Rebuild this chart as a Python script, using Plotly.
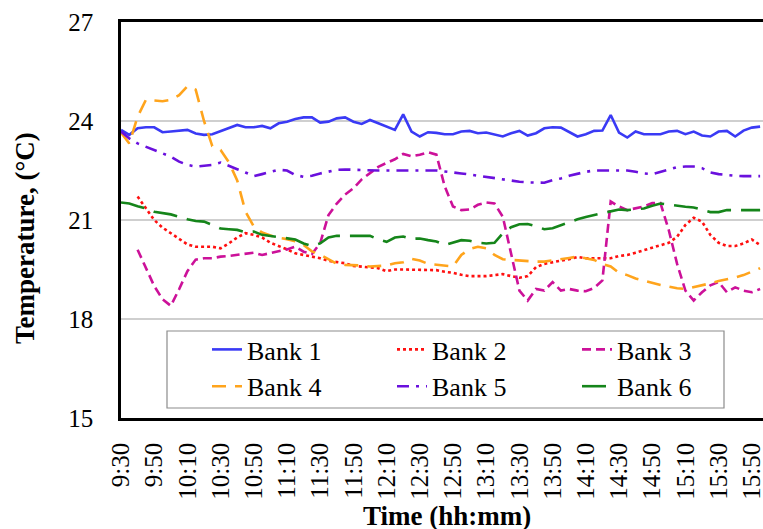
import plotly.graph_objects as go

# 5-minute sampling from 9:30 to 15:55 (categories)
times = [f"{(570 + 5 * k) // 60}:{(570 + 5 * k) % 60:02d}" for k in range(78)]

tick_labels = ["9:30", "9:50", "10:10", "10:30", "10:50", "11:10", "11:30", "11:50",
               "12:10", "12:30", "12:50", "13:10", "13:30", "13:50", "14:10", "14:30",
               "14:50", "15:10", "15:30", "15:50"]

y_ticks = [15, 18, 21, 24, 27]

bank1 = [23.73, 23.58, 23.78, 23.81, 23.81, 23.66, 23.68, 23.71, 23.73, 23.62,
         23.58, 23.60, 23.70, 23.78, 23.88, 23.81, 23.81, 23.85, 23.78, 23.93,
         23.98, 24.06, 24.11, 24.11, 23.95, 23.98, 24.08, 24.11, 23.98, 23.91,
         24.03, 23.93, 23.83, 23.73, 24.20, 23.68, 23.53, 23.66, 23.64, 23.60,
         23.60, 23.68, 23.70, 23.63, 23.65, 23.60, 23.53, 23.63, 23.70, 23.56,
         23.63, 23.78, 23.81, 23.80, 23.66, 23.53, 23.60, 23.70, 23.71, 24.18,
         23.65, 23.50, 23.68, 23.60, 23.60, 23.60, 23.68, 23.70, 23.60, 23.68,
         23.56, 23.53, 23.68, 23.70, 23.53, 23.71, 23.80, 23.83]

bank2 = [None, None, 21.71, 21.35, 21.00, 20.77, 20.60, 20.42, 20.26, 20.19,
         20.19, 20.19, 20.14, 20.29, 20.47, 20.60, 20.55, 20.47, 20.31, 20.22,
         20.11, 19.99, 19.94, 19.89, 19.84, 19.76, 19.72, 19.69, 19.61, 19.59,
         19.57, 19.54, 19.45, 19.50, 19.50, 19.50, 19.50, 19.50, 19.48, 19.43,
         19.40, 19.34, 19.30, 19.30, 19.30, 19.33, 19.36, 19.30, 19.25, 19.30,
         19.57, 19.67, 19.73, 19.77, 19.81, 19.88, 19.84, 19.84, 19.82, 19.84,
         19.91, 19.94, 20.01, 20.08, 20.15, 20.23, 20.31, 20.49, 20.85, 21.07,
         20.95, 20.55, 20.31, 20.21, 20.21, 20.29, 20.41, 20.24]

bank3 = [None, None, 20.10, 19.55, 19.00, 18.60, 18.40, 18.90, 19.45, 19.80,
         19.84, 19.84, 19.89, 19.91, 19.94, 19.99, 20.01, 19.94, 19.99, 20.06,
         20.11, 20.19, 20.04, 19.97, 20.30, 21.15, 21.50, 21.77, 21.96, 22.23,
         22.43, 22.61, 22.73, 22.84, 23.00, 22.93, 22.98, 23.05, 22.98, 22.02,
         21.41, 21.30, 21.32, 21.46, 21.53, 21.50, 21.10, 19.93, 18.86, 18.56,
         18.91, 18.86, 19.12, 18.86, 18.91, 18.86, 18.84, 18.94, 19.17, 21.56,
         21.41, 21.30, 21.36, 21.41, 21.51, 21.51, 20.69, 19.67, 18.86, 18.56,
         18.81, 19.02, 19.12, 18.81, 18.96, 18.86, 18.81, 18.91]

bank4 = [23.65, 23.32, 24.13, 24.64, 24.62, 24.60, 24.64, 24.78, 25.05, 24.95,
         24.00, 23.24, 23.12, 22.75, 22.20, 21.25, 20.80, 20.62, 20.53, 20.46,
         20.42, 20.36, 20.24, 20.05, 19.95, 19.80, 19.67, 19.64, 19.64, 19.62,
         19.59, 19.60, 19.62, 19.69, 19.72, 19.82, 19.77, 19.67, 19.64, 19.61,
         19.59, 19.94, 20.12, 20.19, 20.14, 19.94, 19.81, 19.79, 19.77, 19.74,
         19.74, 19.74, 19.77, 19.81, 19.85, 19.89, 19.84, 19.79, 19.67, 19.59,
         19.40, 19.33, 19.23, 19.16, 19.08, 19.03, 18.98, 18.93, 18.91, 18.96,
         19.03, 19.08, 19.15, 19.20, 19.26, 19.33, 19.43, 19.54]

bank5 = [23.68, 23.47, 23.32, 23.22, 23.14, 23.04, 22.92, 22.77, 22.67, 22.62,
         22.64, 22.67, 22.74, 22.65, 22.54, 22.44, 22.33, 22.39, 22.46, 22.52,
         22.50, 22.36, 22.31, 22.34, 22.41, 22.46, 22.52, 22.53, 22.52, 22.50,
         22.50, 22.50, 22.50, 22.50, 22.50, 22.50, 22.50, 22.50, 22.50, 22.47,
         22.43, 22.41, 22.38, 22.34, 22.31, 22.27, 22.23, 22.19, 22.16, 22.14,
         22.13, 22.13, 22.21, 22.26, 22.34, 22.41, 22.46, 22.50, 22.50, 22.50,
         22.50, 22.50, 22.46, 22.41, 22.39, 22.46, 22.52, 22.60, 22.62, 22.62,
         22.57, 22.44, 22.39, 22.36, 22.34, 22.33, 22.33, 22.33]

bank6 = [21.53, 21.50, 21.42, 21.35, 21.25, 21.22, 21.17, 21.10, 21.02, 20.97,
         20.95, 20.85, 20.74, 20.72, 20.70, 20.63, 20.65, 20.55, 20.52, 20.48,
         20.45, 20.41, 20.29, 20.21, 20.29, 20.47, 20.52, 20.52, 20.52, 20.52,
         20.52, 20.41, 20.34, 20.47, 20.50, 20.43, 20.44, 20.39, 20.35, 20.24,
         20.31, 20.39, 20.37, 20.31, 20.29, 20.31, 20.60, 20.78, 20.87, 20.88,
         20.81, 20.72, 20.75, 20.84, 20.95, 21.02, 21.09, 21.15, 21.22, 21.28,
         21.32, 21.30, 21.32, 21.35, 21.43, 21.50, 21.47, 21.43, 21.40, 21.38,
         21.32, 21.24, 21.24, 21.30, 21.30, 21.30, 21.30, 21.30]

series_names = ["Bank 1", "Bank 2", "Bank 3", "Bank 4", "Bank 5", "Bank 6"]
series_values = [bank1, bank2, bank3, bank4, bank5, bank6]
series_colors = ["#3A3AF5", "#FF1010", "#CC1199", "#FFA41C", "#6A10DD", "#15851A"]
series_dashes = ["solid", "3px,3px", "9px,5px", "14px,9px", "12px,7px,3px,7px", "24px,10px"]

fig = go.Figure()
for name, vals, color, dash in zip(series_names, series_values, series_colors, series_dashes):
    fig.add_trace(go.Scatter(
        x=times, y=vals, mode="lines", name=name,
        line=dict(color=color, width=2.6, dash=dash),
        connectgaps=False,
    ))

FONT = "Liberation Serif"
W, H = 763, 529
L, R, T, B = 121, 0, 22, 111
pw = W - L - R
ph = H - T - B

def px_x(px):
    return (px - L) / pw

def px_y(py):
    return (H - B - py) / ph

fig.update_layout(
    width=W, height=H,
    margin=dict(l=L, r=R, t=T, b=B, autoexpand=False),
    paper_bgcolor="white", plot_bgcolor="white",
    font=dict(family=FONT, color="black"),
    showlegend=True,
    legend=dict(
        orientation="h",
        x=px_x(762), y=px_y(326), xanchor="right", yanchor="top",
        borderwidth=0, bgcolor="rgba(0,0,0,0)",
        font=dict(family=FONT, size=26, color="black"),
        entrywidth=140, entrywidthmode="pixels",
        traceorder="normal",
    ),
    shapes=[
        dict(type="rect", xref="paper", yref="paper",
             x0=px_x(167), x1=px_x(724), y0=px_y(408), y1=px_y(331),
             line=dict(color="#8C8C8C", width=1.2), fillcolor="white",
             layer="above"),
    ],
    annotations=[
        dict(text="<b>Temperature, (°C)</b>", x=px_x(25), y=px_y(238),
             xref="paper", yref="paper", showarrow=False, textangle=-90,
             xanchor="center", yanchor="middle",
             font=dict(family=FONT, size=27, color="black")),
        dict(text="<b>Time (hh:mm)</b>", x=px_x(447), y=px_y(516),
             xref="paper", yref="paper", showarrow=False,
             xanchor="center", yanchor="middle",
             font=dict(family=FONT, size=27, color="black")),
    ],
)

fig.update_xaxes(
    type="category", categoryorder="array", categoryarray=times,
    range=[0, 77.35],
    tickmode="array", tickvals=tick_labels, ticktext=tick_labels,
    tickangle=-90, ticks="", ticklabelstandoff=12,
    tickfont=dict(family=FONT, size=25, color="black"),
    showgrid=False, zeroline=False,
    showline=True, mirror=True, linecolor="black", linewidth=2.6,
    automargin=False,
)
fig.update_yaxes(
    range=[15, 27], tickmode="array", tickvals=y_ticks,
    ticks="", ticklabelstandoff=20,
    tickfont=dict(family=FONT, size=25, color="black"),
    showgrid=True, gridcolor="#CFCFCF", gridwidth=1.5, zeroline=False,
    showline=True, mirror=False, linecolor="black", linewidth=2.6,
    automargin=False,
)

fig.write_html(
    "out.html",
    config={"displayModeBar": False},
    post_script="document.body.style.margin='0';document.body.style.overflow='hidden';",
)
